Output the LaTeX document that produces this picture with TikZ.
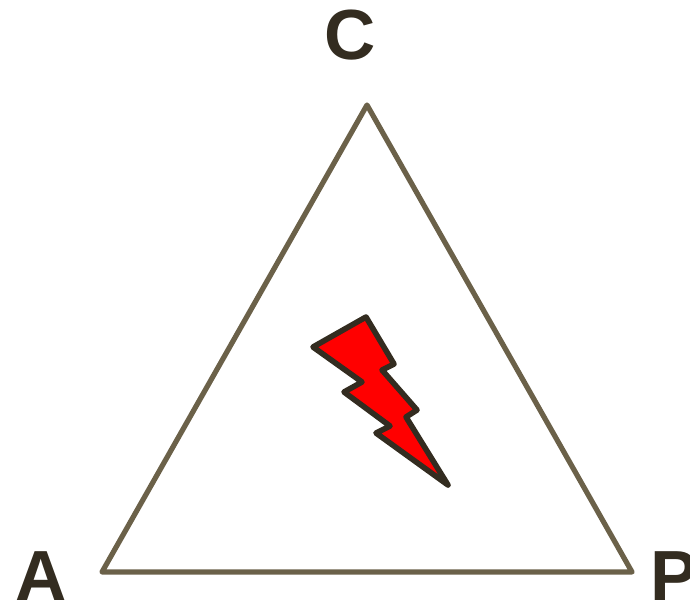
\documentclass[tikz,border=0pt]{standalone}
\usepackage{fontspec}
\setmainfont{Liberation Sans}
\usepackage{tikz}

\definecolor{edgecol}{HTML}{6B6149}
\definecolor{inkcol}{HTML}{332C20}

\begin{document}
\begin{tikzpicture}[
        x=1pt, y=-1pt,
        corner/.style={inner sep=0pt, text=inkcol, font=\fontsize{71}{71}\selectfont\bfseries},
        side/.style={draw=edgecol, line width=5.2pt, line join=round},
        bolt/.style={draw=inkcol, fill=red, line width=5.6pt, line join=round}
    ]
    \useasboundingbox (0,0) rectangle (690,603);

    \coordinate (VA) at (102,572);
    \coordinate (VP) at (632,572);
    \coordinate (VC) at (367,105);

    \node[corner, anchor=base] (LabelA) at (41,600) {A};
    \node[corner, anchor=base west] (LabelP) at (650,600) {P};
    \node[corner, anchor=base] (LabelC) at (350,59) {C};

    \draw[side] (VA) -- (VP) -- (VC) -- cycle;

    \draw[bolt] (366,317) -- (394,364) -- (382,370) -- (417,410) -- (406,417)
        -- (448,485) -- (376,433) -- (390,426) -- (344,392) -- (362,382)
        -- (313,347) -- cycle;

\end{tikzpicture}
\end{document}
